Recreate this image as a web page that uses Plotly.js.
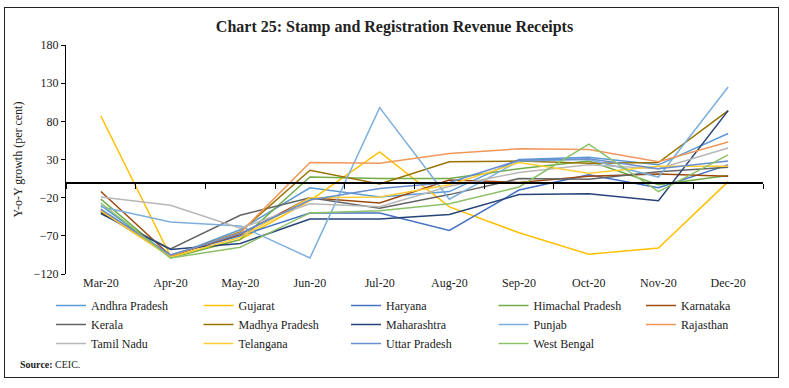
<!DOCTYPE html>
<html>
<head>
<meta charset="utf-8">
<script src="https://cdn.plot.ly/plotly-3.0.1.min.js"></script>
<style>
html,body{margin:0;padding:0;background:#fff;}
#wrap{position:relative;width:789px;height:388px;}
#chart{width:789px;height:388px;}
#frame{position:absolute;left:4px;top:7px;width:773px;height:369px;border:1.5px solid #222;pointer-events:none;}
</style>
</head>
<body>
<div id="wrap"><div id="chart"></div><div id="frame"></div></div>
<script>
const months = ['Mar-20','Apr-20','May-20','Jun-20','Jul-20','Aug-20','Sep-20','Oct-20','Nov-20','Dec-20'];
const stateNames = ['Andhra Pradesh','Gujarat','Haryana','Himachal Pradesh','Karnataka','Kerala','Madhya Pradesh','Maharashtra','Punjab','Rajasthan','Tamil Nadu','Telangana','Uttar Pradesh','West Bengal'];
const andhraPradesh  = [-30, -97, -62,  -7, -19, -12,  30,  33,  23,  64];
const gujarat        = [ 87, -97, -75, -24,  40, -32, -66, -94, -86,   1];
const haryana        = [-38, -95, -70, -40, -40, -63, -10,  10,  -7,  23];
const himachalPradesh= [-22, -99, -75,   7,   5,   5,  18,  28,  -3,   9];
const karnataka      = [-12, -96, -68, -20, -27,   3,   0,   8,  11,   8];
const kerala         = [-40, -87, -43, -20, -34, -16,   5,   4,  14,  20];
const madhyaPradesh  = [-38, -97, -65,  16,  -2,  27,  28,  25,  26,  94];
const maharashtra    = [-41, -88, -80, -48, -48, -42, -16, -15, -24,  94];
const punjab         = [-32, -52, -57, -99,  98, -22,  28,  30,   7, 125];
const rajasthan      = [-36, -96, -66,  26,  25,  38,  44,  43,  27,  53];
const tamilNadu      = [-19, -30, -60, -28, -32,  -5,  13,  23,  18,  45];
const telangana      = [-37, -98, -72, -20, -19,  -3,  26,  12,  21,  21];
const uttarPradesh   = [-35, -95, -67, -23,  -8,   0,  29,  31,  18,  28];
const westBengal     = [-27, -99, -85, -40, -37, -28,  -6,  50, -12,  36];
const seriesValues = [andhraPradesh, gujarat, haryana, himachalPradesh, karnataka, kerala, madhyaPradesh, maharashtra, punjab, rajasthan, tamilNadu, telangana, uttarPradesh, westBengal];
const colors = ['#5B9BD5','#FFC000','#4472C4','#70AD47','#9E480E','#636363','#997300','#264478','#7CAFDD','#F1975A','#B7B7B7','#FFCD33','#698ED0','#8CC168'];

const font = 'Liberation Serif, DejaVu Serif, serif';
const traces = stateNames.map((n, i) => ({
  type: 'scatter', mode: 'lines', name: n, x: months, y: seriesValues[i],
  line: {color: colors[i], width: 1.5}, xaxis: 'x', yaxis: 'y'
}));
// helper trace for the zero-line axis with boundary ticks
traces.push({type:'scatter', mode:'lines', x: months, y: months.map(() => null), xaxis:'x2', yaxis:'y', showlegend:false, hoverinfo:'skip'});

const layout = {
  width: 789, height: 388,
  margin: {l: 66, r: 26, t: 45, b: 114},
  paper_bgcolor: '#fff', plot_bgcolor: '#fff',
  font: {family: font, color: '#222', size: 12},
  title: {text: '<b>Chart 25: Stamp and Registration Revenue Receipts</b>', font: {family: font, size: 16, color: '#222'}, x: 0.5, xanchor: 'center', y: 1 - 26/388, yanchor: 'middle', yref: 'container'},
  xaxis: {type: 'category', range: [-0.5, 9.5], showline: false, ticks: '', showgrid: false, zeroline: false, tickfont: {family: font, size: 12, color: '#222'}},
  xaxis2: {type: 'category', overlaying: 'x', matches: 'x', anchor: 'free', position: 0.4, side: 'bottom', showline: true, linecolor: '#000', linewidth: 1.3, ticks: 'outside', tickson: 'boundaries', ticklen: 5, tickcolor: '#000', showticklabels: false, showgrid: false},
  yaxis: {range: [-120, 180], dtick: 50, tick0: -120, showline: true, linecolor: '#000', linewidth: 1, ticks: 'outside', ticklen: 4, tickcolor: '#000', showgrid: false, zeroline: false, tickfont: {family: font, size: 12, color: '#222'},
    title: {text: 'Y-o-Y growth (per cent)', font: {family: font, size: 12, color: '#222'}, standoff: 8}},
  showlegend: true,
  legend: {orientation: 'h', xref: 'paper', yref: 'paper', x: (52 - 66) / 697, y: (274 - 291) / 229, xanchor: 'left', yanchor: 'top', entrywidth: 102.5, entrywidthmode: 'pixels', itemwidth: 30, font: {family: font, size: 12, color: '#222'}, bgcolor: 'rgba(0,0,0,0)', tracegroupgap: 0},
  annotations: [{text: '<b>Source:</b> CEIC.', xref: 'paper', yref: 'paper', x: -48/697, y: -90/229, xanchor: 'left', yanchor: 'middle', showarrow: false, font: {family: font, size: 10, color: '#222'}}]
};
Plotly.newPlot('chart', traces, layout, {displayModeBar: false, staticPlot: true});
</script>
</body>
</html>
